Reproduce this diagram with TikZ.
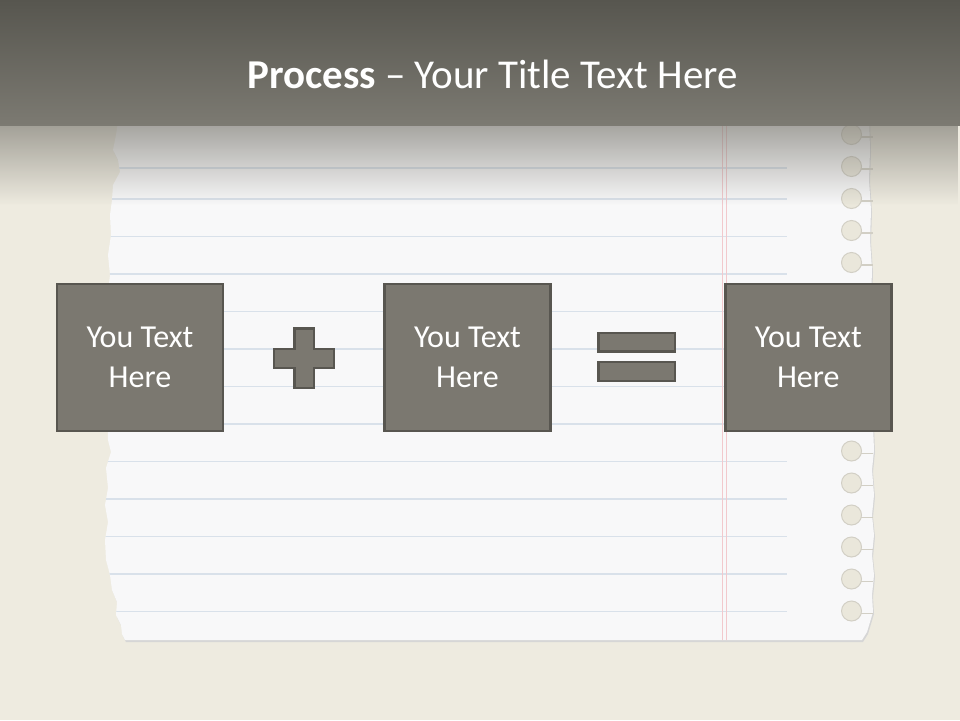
\documentclass[tikz,border=0pt]{standalone}
\usepackage{fontspec}
\setmainfont{Carlito}
\usetikzlibrary{fadings}
\definecolor{cream}{HTML}{EEEBE0}
\definecolor{paper}{HTML}{F8F8F9}
\definecolor{rule}{HTML}{D9E1EA}
\definecolor{margin}{HTML}{F2C9CD}
\definecolor{bandtop}{HTML}{57564F}
\definecolor{bandbot}{HTML}{7C7A72}
\definecolor{boxfill}{HTML}{7B7870}
\definecolor{boxline}{HTML}{585650}
\definecolor{hole}{HTML}{EAE7DB}
\definecolor{holeline}{HTML}{D2CFC5}
\tikzfading[name=bandfade, top color=transparent!30, bottom color=transparent!100]
\newcommand{\paperpts}{(119,115) -- (116,135) -- (113,150) -- (118,160) -- (120,172) -- (113,185) -- (112,200) -- (110,215) -- (111,235) -- (108,255) -- (110,275) -- (107,300) -- (108,440) -- (111,452) -- (106,468) -- (108,488) -- (105,505) -- (108,522) -- (105,540) -- (106,560) -- (110,575) -- (112,590) -- (117,602) -- (116,615) -- (121,625) -- (122,634) -- (125,640) -- (862,640) -- (867,632) -- (870,622) -- (873,612) -- (872,595) -- (874,575) -- (872,555) -- (874,535) -- (872,515) -- (874,495) -- (872,470) -- (874,450) -- (873,425) -- (874,400) -- (872,370) -- (874,340) -- (871,300) -- (872,270) -- (870,240) -- (871,210) -- (869,180) -- (870,150) -- (869,115) -- cycle}
\tikzset{
  textbox/.style={draw=boxline, fill=boxfill, line width=2.5pt, minimum width=166pt, minimum height=147pt,
    text=white, font=\fontsize{32}{40}\selectfont, align=center, inner sep=0pt},
  symbol/.style={draw=boxline, fill=boxfill, line width=2.5pt, line join=miter},
  holestyle/.style={fill=hole, draw=holeline, line width=1pt},
}
\begin{document}
\begin{tikzpicture}[x=1pt,y=-1pt]
\useasboundingbox (0,0) rectangle (960,720);
\fill[cream] (0,0) rectangle (960,720);
% paper
\fill[black!16, shift={(1,2)}] \paperpts;
\fill[paper] \paperpts;
\begin{scope}
  \clip \paperpts;
  \foreach \yy in {168,199,236.5,274,311.5,349,386.5,424,461.5,499,536.5,574,611.5}
    \draw[rule, line width=1.2pt] (100,\yy) -- (787,\yy);
  \draw[margin, line width=0.8pt] (722,100) -- (722,660) (726,100) -- (726,660);
\end{scope}
% holes
\foreach \yy in {134.5,166.5,198.5,230.5,262.5,451,483,515,547,579,611} {
  \draw[holeline, line width=1.4pt] (860,\yy+2.5) -- (873,\yy+2.5);
  \path[holestyle] (851.5,\yy) circle[radius=10];
}
% shadow below the top band
\fill[bandbot, path fading=bandfade] (0,120) rectangle (960,205);
% top band
\shade[top color=bandtop, bottom color=bandbot] (0,0) rectangle (960,125);
\node[anchor=base, text=white, font=\fontsize{41}{48}\selectfont, inner sep=0pt] (title) at (492.5,88)
  {\textbf{Process} – Your Title Text Here};
% boxes
\node[textbox] (boxA) at (140,357.5) {You Text\\Here};
\node[textbox] (boxB) at (467.5,357.5) {You Text\\Here};
\node[textbox] (boxC) at (808.3,357.5) {You Text\\Here};
% plus
\draw[symbol] (294.5,328.5) -- (313.8,328.5) -- (313.8,349) -- (333.8,349) -- (333.8,367.8)
  -- (313.8,367.8) -- (313.8,387.8) -- (294.5,387.8) -- (294.5,367.8) -- (274,367.8)
  -- (274,349) -- (294.5,349) -- cycle;
% equals
\draw[symbol] (598.5,333) rectangle (674.8,351.5);
\draw[symbol] (598.5,362) rectangle (674.8,381);
\end{tikzpicture}
\end{document}
